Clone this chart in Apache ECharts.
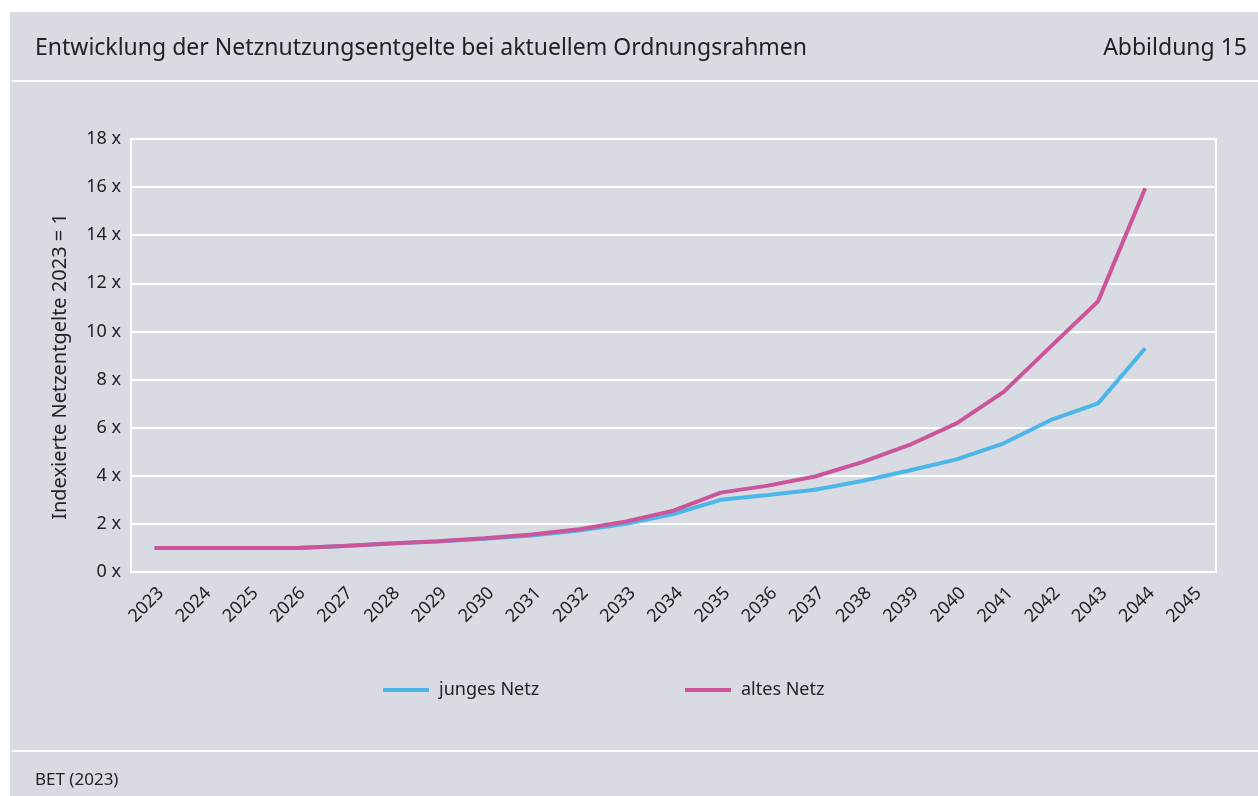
<!DOCTYPE html>
<html>
<head>
<meta charset="utf-8">
<script src="https://cdn.jsdelivr.net/npm/echarts@6/dist/echarts.min.js"></script>
<style>
  html, body { margin: 0; padding: 0; background: #ffffff; }
  #chart { width: 1258px; height: 796px; }
</style>
</head>
<body>
<div id="chart"></div>
<script>
const years = ['2023', '2024', '2025', '2026', '2027', '2028', '2029', '2030', '2031', '2032', '2033', '2034',
  '2035', '2036', '2037', '2038', '2039', '2040', '2041', '2042', '2043', '2044', '2045'];
const jungesNetz = [1.0, 1.0, 1.0, 1.0, 1.08, 1.18, 1.27, 1.38, 1.52, 1.72, 2.0, 2.41,
  3.0, 3.2, 3.42, 3.78, 4.22, 4.68, 5.35, 6.32, 7.01, 9.3];
const altesNetz = [1.0, 1.0, 1.0, 1.0, 1.08, 1.18, 1.28, 1.4, 1.56, 1.78, 2.1, 2.55,
  3.3, 3.59, 3.97, 4.57, 5.28, 6.18, 7.49, 9.38, 11.25, 15.95];
const yTicks = [0, 2, 4, 6, 8, 10, 12, 14, 16, 18];

const FONT = 'Noto Sans, sans-serif';
const TEXT = '#222222';
const BG = '#d8dbe2';

const chart = echarts.init(document.getElementById('chart'));

const legendText = { fontFamily: FONT, fontSize: 18, color: TEXT, padding: [0, 0, 0, 5] };

const option = {
  backgroundColor: '#ffffff',
  animation: false,
  textStyle: { fontFamily: FONT, color: TEXT },
  title: [
    {
      text: 'Entwicklung der Netznutzungsentgelte bei aktuellem Ordnungsrahmen',
      left: 30, top: 32,
      textStyle: { fontFamily: FONT, fontSize: 23, fontWeight: 'normal', color: TEXT }
    },
    {
      text: 'Abbildung 15',
      right: 6, top: 32,
      textStyle: { fontFamily: FONT, fontSize: 23, fontWeight: 'normal', color: TEXT }
    },
    {
      text: 'BET (2023)',
      left: 30, top: 767,
      textStyle: { fontFamily: FONT, fontSize: 17, fontWeight: 'normal', color: TEXT }
    }
  ],
  graphic: [
    { type: 'rect', z: -10, silent: true, shape: { x: 10, y: 12, width: 1248, height: 784 }, style: { fill: BG } },
    { type: 'rect', z: -9, silent: true, shape: { x: 12, y: 80, width: 1246, height: 2 }, style: { fill: '#ffffff' } },
    { type: 'rect', z: -9, silent: true, shape: { x: 12, y: 750, width: 1246, height: 2 }, style: { fill: '#ffffff' } }
  ],
  legend: [
    {
      left: 378, top: 676,
      itemWidth: 46, itemHeight: 4, icon: 'rect',
      textStyle: legendText,
      data: ['junges Netz']
    },
    {
      left: 680, top: 676,
      itemWidth: 46, itemHeight: 4, icon: 'rect',
      textStyle: legendText,
      data: ['altes Netz']
    }
  ],
  grid: {
    left: 131, right: 42, top: 139, bottom: 224,
    show: true, borderColor: '#ffffff', borderWidth: 2, backgroundColor: 'transparent'
  },
  xAxis: {
    type: 'category',
    data: years,
    boundaryGap: true,
    axisLine: { show: true, lineStyle: { color: '#ffffff', width: 2 } },
    axisTick: { show: false },
    axisLabel: {
      rotate: 45, fontFamily: FONT, fontSize: 18, color: TEXT,
      margin: 12, interval: 0, verticalAlign: 'top'
    }
  },
  yAxis: {
    type: 'value',
    min: 0, max: 18, interval: 2,
    name: 'Indexierte Netzentgelte 2023 = 1',
    nameLocation: 'middle',
    nameGap: 61,
    nameTextStyle: { fontFamily: FONT, fontSize: 20, color: TEXT, padding: [0, 22, 0, 0] },
    axisLine: { show: true, lineStyle: { color: '#ffffff', width: 2 } },
    axisTick: { show: false },
    axisLabel: {
      fontFamily: FONT, fontSize: 18, color: TEXT, margin: 10,
      formatter: v => yTicks.includes(v) ? v + ' x' : ''
    },
    splitLine: { show: true, lineStyle: { color: '#ffffff', width: 2 } }
  },
  series: [
    {
      name: 'junges Netz',
      type: 'line',
      data: jungesNetz,
      symbol: 'none',
      color: '#4cb6e8',
      lineStyle: { width: 4, color: '#4cb6e8' }
    },
    {
      name: 'altes Netz',
      type: 'line',
      data: altesNetz,
      symbol: 'none',
      color: '#cc549b',
      lineStyle: { width: 4, color: '#cc549b' }
    }
  ]
};

chart.setOption(option);
</script>
</body>
</html>
